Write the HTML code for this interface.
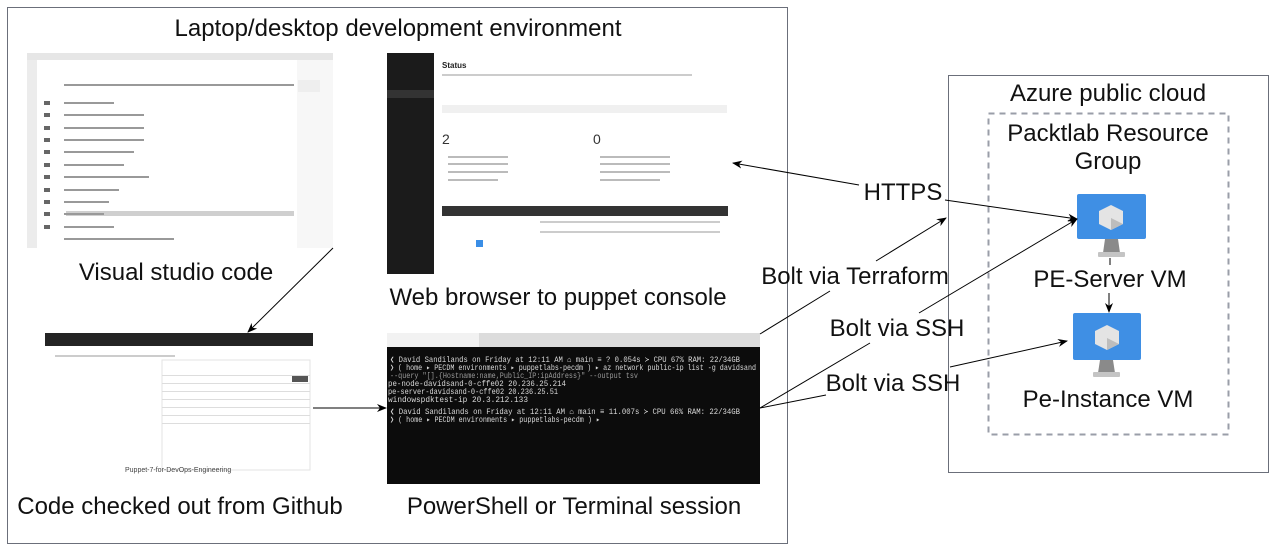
<!DOCTYPE html>
<html><head><meta charset="utf-8"><style>
html,body{margin:0;padding:0;background:#fff;}
svg{display:block;font-family:"Liberation Sans",Arial,sans-serif;}
.mono{font-family:"Liberation Mono",monospace;}
</style></head><body>
<svg width="1276" height="552" viewBox="0 0 1276 552" xmlns="http://www.w3.org/2000/svg">
<defs>
<marker id="ah" markerWidth="10" markerHeight="10" refX="9" refY="5" orient="auto" markerUnits="userSpaceOnUse">
<path d="M0,1 L10,5 L0,9 L3,5 Z" fill="#000"/></marker>
</defs>
<rect x="7.5" y="7.5" width="780" height="536" fill="#fff" stroke="#6b6f7a" stroke-width="1"/>
<text x="398" y="36" font-size="24" text-anchor="middle" fill="#111">Laptop/desktop development environment</text>

<!-- VS code screenshot -->
<g>
<rect x="27" y="53" width="306" height="195" fill="#f7f7f7"/>
<rect x="27" y="53" width="306" height="7" fill="#e6e6e6"/>
<rect x="27" y="60" width="10" height="188" fill="#ececec"/>
<rect x="37" y="60" width="260" height="188" fill="#fff"/>
<rect x="66" y="211" width="228" height="5" fill="#cfcfcf"/>
<g fill="#999">
<rect x="64" y="84" width="230" height="2"/>
<rect x="64" y="102" width="50" height="2"/><rect x="64" y="114" width="80" height="2"/>
<rect x="64" y="127" width="80" height="2"/><rect x="64" y="139" width="80" height="2"/>
<rect x="64" y="151" width="70" height="2"/><rect x="64" y="164" width="60" height="2"/>
<rect x="64" y="176" width="85" height="2"/><rect x="64" y="189" width="55" height="2"/>
<rect x="64" y="201" width="45" height="2"/><rect x="64" y="213" width="40" height="2"/>
<rect x="64" y="226" width="50" height="2"/><rect x="64" y="238" width="110" height="2"/>
</g>
<g fill="#666"><rect x="44" y="101" width="6" height="4"/><rect x="44" y="113" width="6" height="4"/><rect x="44" y="126" width="6" height="4"/><rect x="44" y="138" width="6" height="4"/><rect x="44" y="150" width="6" height="4"/><rect x="44" y="163" width="6" height="4"/><rect x="44" y="175" width="6" height="4"/><rect x="44" y="188" width="6" height="4"/><rect x="44" y="200" width="6" height="4"/><rect x="44" y="212" width="6" height="4"/><rect x="44" y="225" width="6" height="4"/></g>
<rect x="298" y="80" width="22" height="12" fill="#eee"/>
</g>
<text x="176" y="280" font-size="24" text-anchor="middle" fill="#111">Visual studio code</text>

<!-- Web console screenshot -->
<g>
<rect x="387" y="53" width="339" height="221" fill="#fff"/>
<rect x="387" y="53" width="47" height="221" fill="#1b1b1b"/>
<rect x="387" y="90" width="47" height="8" fill="#333"/>
<text x="442" y="68" font-size="8" font-weight="bold" fill="#222">Status</text>
<rect x="442" y="74" width="250" height="2" fill="#ccc"/>
<rect x="442" y="105" width="285" height="8" fill="#f0f0f0"/>
<text x="442" y="144" font-size="14" fill="#333">2</text>
<text x="593" y="144" font-size="14" fill="#333">0</text>
<g fill="#bbb"><rect x="448" y="156" width="60" height="2"/><rect x="448" y="163" width="60" height="2"/><rect x="448" y="171" width="60" height="2"/><rect x="448" y="179" width="50" height="2"/>
<rect x="600" y="156" width="70" height="2"/><rect x="600" y="163" width="70" height="2"/><rect x="600" y="171" width="70" height="2"/><rect x="600" y="179" width="60" height="2"/></g>
<rect x="442" y="206" width="286" height="10" fill="#333"/>
<g fill="#ccc"><rect x="540" y="221" width="180" height="2"/><rect x="540" y="231" width="180" height="2"/></g>
<rect x="476" y="240" width="7" height="7" fill="#3a8ee6"/>
</g>
<text x="558" y="305" font-size="24" text-anchor="middle" fill="#111">Web browser to puppet console</text>

<!-- Github screenshot -->
<g>
<rect x="45" y="333" width="268" height="144" fill="#fff"/>
<rect x="45" y="333" width="268" height="13" fill="#242424"/>
<rect x="162" y="360" width="148" height="110" fill="#fff" stroke="#e3e3e3"/>
<g fill="#ddd"><rect x="162" y="375" width="148" height="1"/><rect x="162" y="383" width="148" height="1"/><rect x="162" y="391" width="148" height="1"/><rect x="162" y="399" width="148" height="1"/><rect x="162" y="407" width="148" height="1"/><rect x="162" y="415" width="148" height="1"/><rect x="162" y="423" width="148" height="1"/></g>
<rect x="292" y="376" width="16" height="6" fill="#555"/>
<text x="125" y="472" font-size="7" fill="#444">Puppet-7-for-DevOps-Engineering</text>
<rect x="55" y="355" width="120" height="2" fill="#ccc"/>
</g>
<text x="180" y="514" font-size="24" text-anchor="middle" fill="#111">Code checked out from Github</text>

<!-- Terminal -->
<g>
<rect x="387" y="333" width="373" height="151" fill="#0c0c0c"/>
<rect x="387" y="333" width="373" height="14" fill="#dcdcdc"/>
<rect x="387" y="333" width="92" height="14" fill="#f2f2f2"/>
<g class="mono" font-size="8" fill="#d8d8d8" lengthAdjust="spacingAndGlyphs">
<text x="390" y="362" textLength="350" lengthAdjust="spacingAndGlyphs">❮ David Sandilands on Friday at 12:11 AM ⌂ main ≡ ? 0.054s ≻ CPU 67% RAM: 22/34GB</text>
<text x="390" y="370" textLength="366" lengthAdjust="spacingAndGlyphs">❯ ( home ▸ PECDM environments ▸ puppetlabs-pecdm ) ▸ az network public-ip list -g davidsand</text>
<text x="390" y="378" fill="#999" textLength="248" lengthAdjust="spacingAndGlyphs">--query "[].{Hostname:name,Public_IP:ipAddress}" --output tsv</text>
<text x="388" y="386" textLength="178" lengthAdjust="spacingAndGlyphs">pe-node-davidsand-0-cffe02      20.236.25.214</text>
<text x="388" y="394" textLength="170" lengthAdjust="spacingAndGlyphs">pe-server-davidsand-0-cffe02    20.236.25.51</text>
<text x="388" y="402" textLength="140" lengthAdjust="spacingAndGlyphs">windowspdktest-ip       20.3.212.133</text>
<text x="390" y="414" textLength="350" lengthAdjust="spacingAndGlyphs">❮ David Sandilands on Friday at 12:11 AM ⌂ main ≡  11.007s ≻ CPU 66% RAM: 22/34GB</text>
<text x="390" y="422" textLength="210" lengthAdjust="spacingAndGlyphs">❯ ( home ▸ PECDM environments ▸ puppetlabs-pecdm ) ▸</text>
</g>
</g>
<text x="574" y="514" font-size="24" text-anchor="middle" fill="#111">PowerShell or Terminal session</text>

<!-- Azure box -->
<rect x="948.5" y="75.5" width="320" height="397" fill="#fff" stroke="#6b6f7a"/>
<text x="1108" y="101" font-size="24" text-anchor="middle" fill="#111">Azure public cloud</text>
<rect x="988.5" y="113.5" width="240" height="321" fill="none" stroke="#9a9ea8" stroke-width="2" stroke-dasharray="6,5"/>
<text x="1108" y="141" font-size="24" text-anchor="middle" fill="#111">Packtlab Resource</text>
<text x="1108" y="169" font-size="24" text-anchor="middle" fill="#111">Group</text>

<!-- VM icons -->
<g>
<rect x="1077" y="194" width="69" height="45" rx="2" fill="#3f8fe4"/>
<path d="M1105,239 h13 l2,14 h-17 z" fill="#8a8a8a"/>
<rect x="1098" y="252" width="27" height="5" rx="1" fill="#c4c4c4"/>
<path d="M1111,205 l12,6 v13 l-12,6 l-12,-6 v-13 z" fill="#e4e4e4"/>
<path d="M1111,218 l12,6 l-12,6 z" fill="#bdbdbd"/>
<rect x="1073" y="313" width="68" height="47" rx="2" fill="#3f8fe4"/>
<path d="M1100,360 h13 l2,13 h-17 z" fill="#8a8a8a"/>
<rect x="1093" y="372" width="27" height="5" rx="1" fill="#c4c4c4"/>
<path d="M1107,325 l12,6 v13 l-12,6 l-12,-6 v-13 z" fill="#e4e4e4"/>
<path d="M1107,338 l12,6 l-12,6 z" fill="#bdbdbd"/>
</g>
<line x1="1110" y1="258" x2="1110" y2="265" stroke="#000"/>
<line x1="1109" y1="293" x2="1109" y2="312" stroke="#000" marker-end="url(#ah)"/>
<text x="1110" y="287" font-size="24" text-anchor="middle" fill="#111">PE-Server VM</text>
<text x="1108" y="407" font-size="24" text-anchor="middle" fill="#111">Pe-Instance VM</text>

<!-- connectors -->
<g stroke="#000" stroke-width="1" fill="none">
<line x1="333" y1="248" x2="248" y2="332" marker-end="url(#ah)"/>
<line x1="313" y1="408" x2="386" y2="408" marker-end="url(#ah)"/>
<line x1="859" y1="185" x2="733" y2="163" marker-end="url(#ah)"/>
<line x1="945" y1="200" x2="1077" y2="219" marker-end="url(#ah)"/>
<line x1="760" y1="334" x2="830" y2="291" />
<line x1="876" y1="261" x2="946" y2="218" marker-end="url(#ah)"/>
<line x1="760" y1="408" x2="870" y2="343"/>
<line x1="919" y1="313" x2="1077" y2="219" marker-end="url(#ah)"/>
<line x1="760" y1="408" x2="826" y2="395"/>
<line x1="950" y1="367" x2="1067" y2="341" marker-end="url(#ah)"/>
</g>
<g font-size="24" fill="#111" text-anchor="middle">
<text x="903" y="200">HTTPS</text>
<text x="855" y="284">Bolt via Terraform</text>
<text x="897" y="336">Bolt via SSH</text>
<text x="893" y="391">Bolt via SSH</text>
</g>
</svg>
</body></html>
